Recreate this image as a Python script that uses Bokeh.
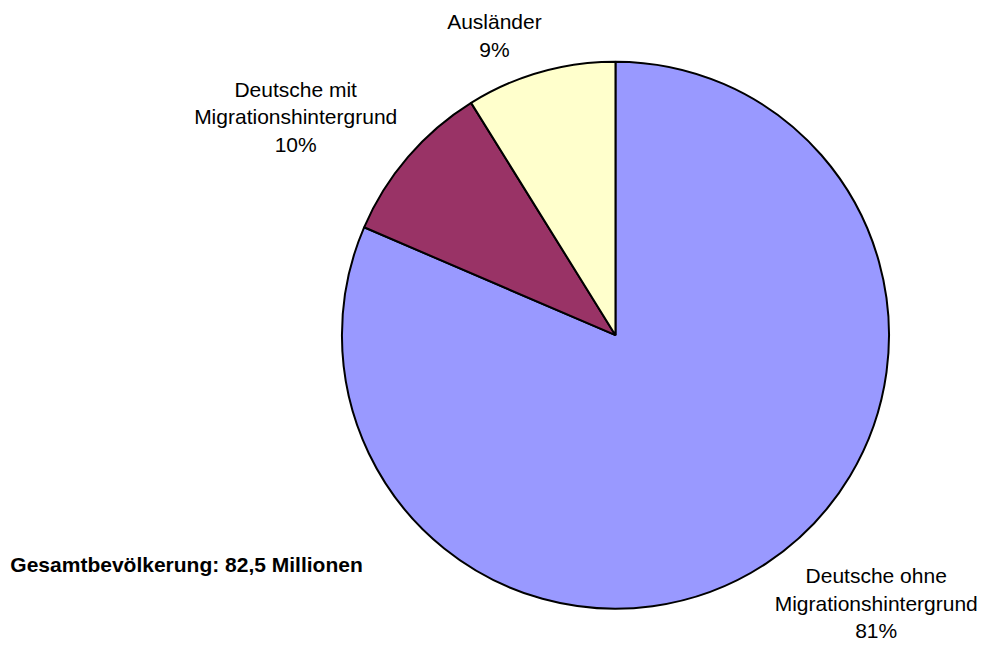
import math
from bokeh.plotting import figure
from bokeh.models import Range1d, ColumnDataSource
from bokeh.core.properties import value
from bokeh.embed import file_html
from bokeh.resources import INLINE

# Data (millions)
categories = ["Deutsche ohne\nMigrationshintergrund", "Deutsche mit\nMigrationshintergrund", "Ausländer"]
values = [67.2, 8.0, 7.3]
colors = ["#9999FF", "#993366", "#FFFFCC"]
total_label = "Gesamtbevölkerung: 82,5 Millionen"

W, H = 981, 645
p = figure(width=W, height=H, output_backend="svg", toolbar_location=None,
           x_range=Range1d(0, W), y_range=Range1d(0, H), min_border=0)
p.axis.visible = False
p.grid.visible = False
p.outline_line_color = None
p.background_fill_color = "white"
p.border_fill_color = "white"

SX, SY = W / 997, H / 661
def Y(img_y):
    return H - img_y * SY
def X(img_x):
    return img_x * SX

cx, cy, r = X(625), Y(343), 278 * SX
total = sum(values)
starts, ends = [], []
cum = 0.0
for v in values:
    starts.append(math.pi / 2 - cum / total * 2 * math.pi)
    cum += v
    ends.append(math.pi / 2 - cum / total * 2 * math.pi)

src = ColumnDataSource(dict(start=starts, end=ends, color=colors))
p.wedge(x=cx, y=cy, radius=r, start_angle="start", end_angle="end", direction="clock",
        fill_color="color", line_color="black", line_width=2, source=src)

pcts = [f"{round(v / total * 100)}%" for v in values]
texts = [f"{c}\n{pc}" for c, pc in zip(categories, pcts)]
lx = [X(890), X(300), X(502)]
ly = [Y(624) + 6, Y(119), Y(36)]
p.text(x=lx, y=ly, text=texts, text_align="center", text_baseline="middle",
       text_font=value("Liberation Sans"), text_font_size="21px", text_color="black",
       text_line_height=1.2)

p.text(x=[X(10)], y=[Y(578)], text=[total_label], text_align="left", text_baseline="middle",
       text_font=value("Liberation Sans"), text_font_size="21px", text_font_style="bold",
       text_color="black")

open("out.html", "w").write(file_html(p, INLINE))
